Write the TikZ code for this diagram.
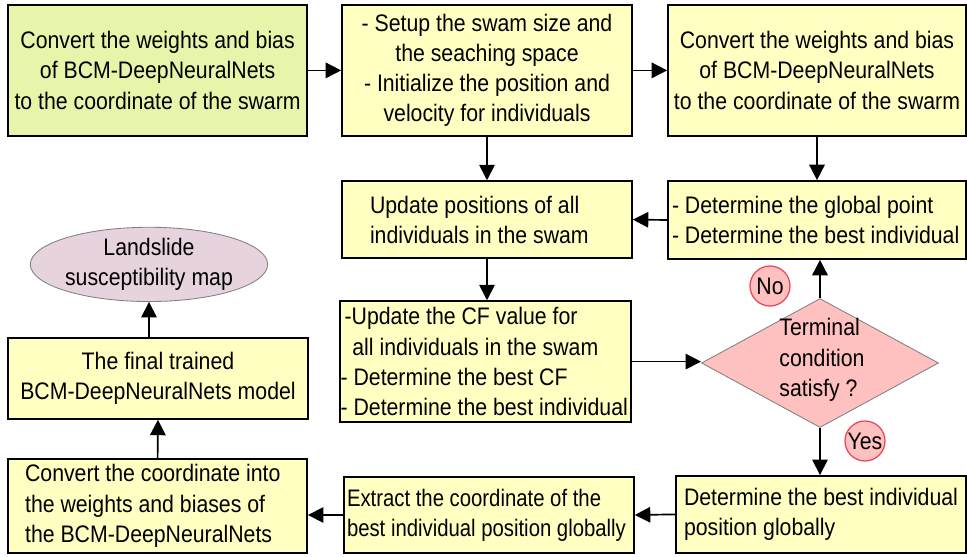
\documentclass[tikz,border=0pt]{standalone}
\usepackage{fontspec}
\setmainfont{Liberation Sans}[FakeStretch=0.89]
\newfontfamily\narrowfont{Liberation Sans}[FakeStretch=0.85]
\usetikzlibrary{arrows.meta}
\usetikzlibrary{shapes.geometric}
\definecolor{boxyel}{HTML}{FFFFC2}
\definecolor{boxgreen}{HTML}{E6F5AA}
\definecolor{diapink}{HTML}{FFC0C0}
\definecolor{tagred}{HTML}{E8485E}
\definecolor{mapmauve}{HTML}{E6D3DE}

\begin{document}
\begin{tikzpicture}[font=\fontsize{17}{21.5}\selectfont,
  box/.style={draw, line width=1.2pt, fill=boxyel, inner sep=0pt, align=center},
  lbox/.style={box, align=flush left},
  arr/.style={-{Triangle[length=11pt,width=11pt]}, line width=1.2pt},
  tag/.style={circle, draw=tagred, fill=diapink, line width=0.9pt, minimum size=1cm, inner sep=0pt}]
\useasboundingbox (0,0) rectangle (24.175,-13.925);
\node (conv) [box, fill=boxgreen, minimum width=7.475cm, minimum height=3.275cm] at (3.94,-1.76) {Convert the weights and bias\\of BCM-DeepNeuralNets\\to the coordinate of the swarm};
\node (setup) [box, minimum width=7.25cm, minimum height=3.275cm] at (12.175,-1.76) {- Setup the swam size and\\the seaching space\\- Initialize the position and\\velocity for individuals};
\node (conv2) [box, minimum width=7.45cm, minimum height=3.275cm] at (20.425,-1.76) {Convert the weights and bias\\of BCM-DeepNeuralNets\\to the coordinate of the swarm};
\node (upd) [lbox, text width=5.85cm, inner xsep=0.7cm, minimum height=1.925cm] at (12.175,-5.49) {Update positions of all\\individuals in the swam};
\node (glob) [lbox, text width=7.25cm, inner xsep=0.1cm, minimum height=1.95cm] at (20.425,-5.5) {- Determine the global point\\- Determine the best individual};
\node (cf) [lbox, text width=7.25cm, inner xsep=0.01cm, minimum height=3.025cm] at (12.14,-9.04) {\,-Update the CF value for\\\ \ all individuals in the swam\\- Determine the best CF\\- Determine the best individual};
\node (term) [diamond, draw=gray, line width=0.6pt, fill=diapink, aspect=1.84, inner sep=0pt, minimum width=5.925cm, minimum height=3.225cm] at (20.5,-9.075) {};
\node (termtxt) [align=left] at (20.55,-9.0) {Terminal\\condition\\satisfy ?};
\node (best) [lbox, text width=6.85cm, inner xsep=0.2cm, minimum height=1.925cm] at (20.525,-12.86) {Determine the best individual\\position globally};
\node (extr) [lbox, font=\fontsize{17}{21.5}\narrowfont, text width=7.1cm, inner xsep=0.075cm, minimum height=1.9cm] at (12.225,-12.875) {Extract the coordinate of the\\best individual position globally};
\node (back) [lbox, text width=6.625cm, inner xsep=0.425cm, minimum height=2.35cm] at (3.94,-12.65) {Convert the coordinate into\\the weights and biases of\\the BCM-DeepNeuralNets};
\node (final) [box, minimum width=7.5cm, minimum height=2.025cm] at (3.95,-9.46) {The final trained\\BCM-DeepNeuralNets model};
\node (map) [ellipse, draw=gray, line width=0.6pt, fill=mapmauve, align=center, inner sep=0pt, minimum width=5.125cm, minimum height=1.625cm] at (3.725,-6.61) {Landslide\\susceptibility map};
\node (no) [tag] at (19.25,-7.15) {No};
\node (yes) [tag] at (21.625,-11.025) {Yes};
\draw [arr] (conv.east) -- (setup.west);
\draw [arr] (setup.east) -- (conv2.west);
\draw [arr] (setup.south) -- (upd.north);
\draw [arr] (conv2.south) -- (glob.north);
\draw [arr] (glob.west) -- (upd.east);
\draw [arr] (upd.south) -- (upd.south |- cf.north);
\draw [arr] (cf.east) -- (cf.east -| term.west);
\draw [arr] (term.north) -- (term.north |- glob.south);
\draw [arr] (term.south) -- (term.south |- best.north);
\draw [arr] (best.west) -- (extr.east);
\draw [arr] (extr.west) -- (extr.west -| back.east);
\draw [arr] (back.north) -- (final.south);
\draw [arr] (final.north -| map.south) -- (map.south);
\end{tikzpicture}
\end{document}
